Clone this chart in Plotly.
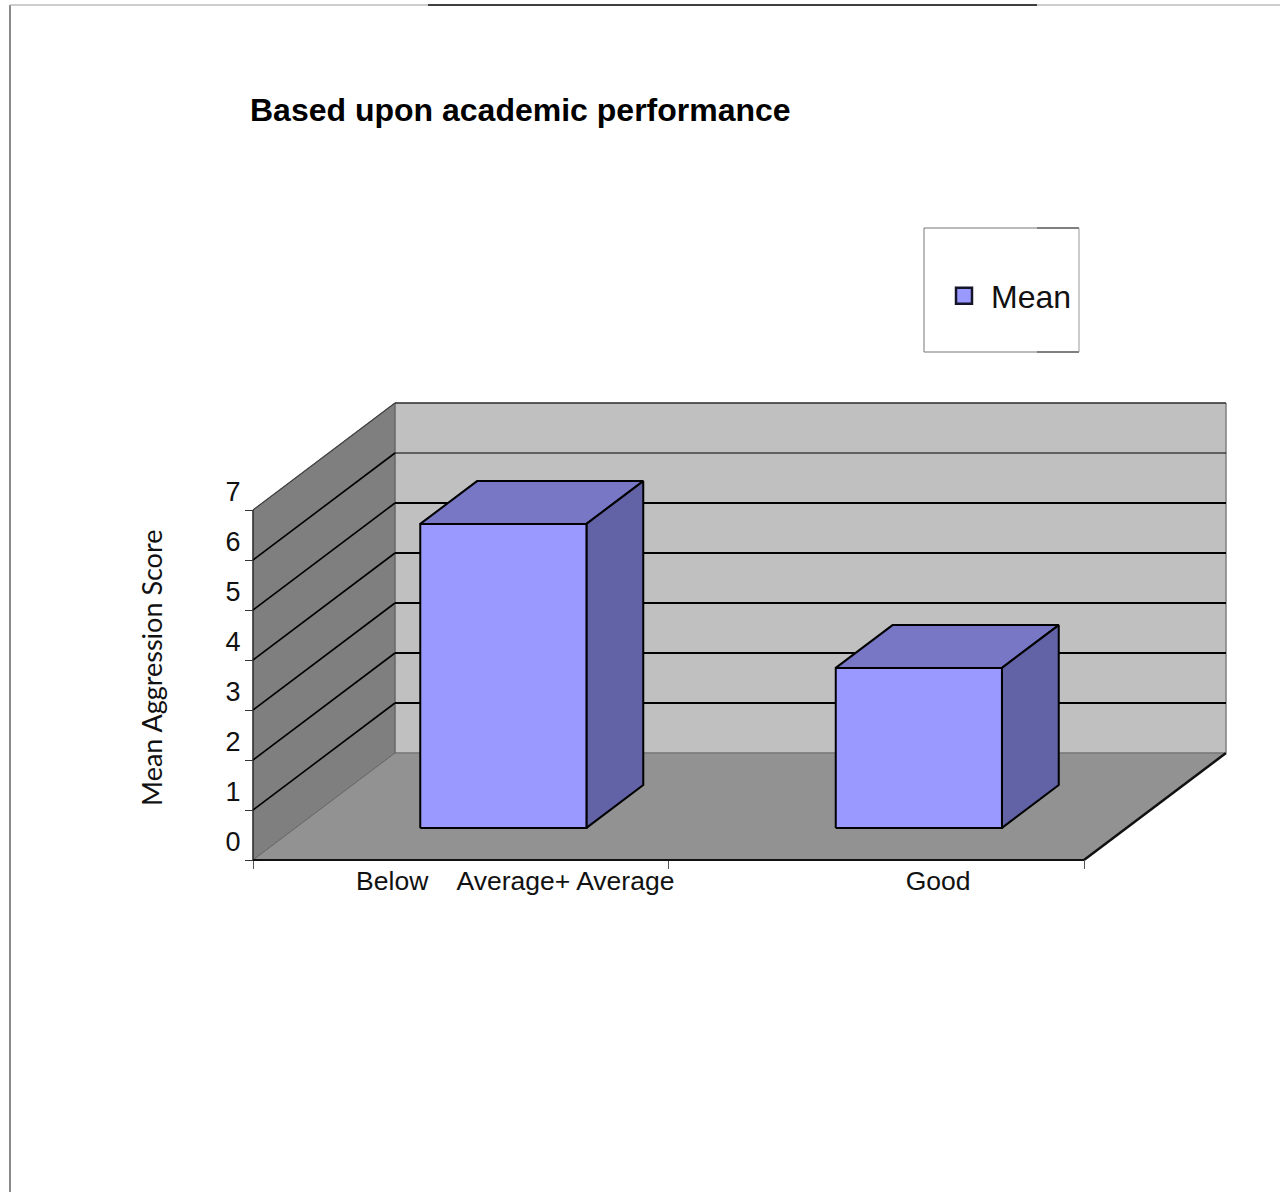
import plotly.graph_objects as go

# ---- data ----
series_name = "Mean"
axis_title = "Mean Aggression Score"
bar_centers = [0.5, 1.5]
bar_values = [6.08, 3.2]
tick_values = [0, 1, 2, 3, 4, 5, 6, 7]
cat_label_pos = [0.335, 0.752, 1.649]
cat_labels = ["Below", "Average+ Average", "Good"]
cat_edges = [0, 1, 2]

# ---- oblique projection used for the fake 3-D look ----
W, H = 1280, 1192
X0, X1, Y0, Y1 = 253, 1226, 860, 403
UNIT_X, UNIT_Y = 415.5, 50
DX, DY = 142 / UNIT_X, 107 / UNIT_Y
XMAX, YMAX = 2, 7
BAR_W = 0.4
D_FRONT, D_BACK = 0.3, 0.7
PAD = 10  # spare pixels round the plot so edge strokes are not clipped


def project(pts):
    xs = [u + d * DX for u, v, d in pts]
    ys = [v + d * DY for u, v, d in pts]
    return xs, ys


fig = go.Figure()


def poly(pts, fill, line="#000000", width=2):
    xs, ys = project(pts + pts[:1])
    fig.add_trace(go.Scatter(
        x=xs, y=ys, mode="lines", fill="toself", fillcolor=fill,
        line=dict(color=line, width=width), hoverinfo="skip",
        showlegend=False, cliponaxis=False))


def seg(a, b, color="#000000", width=2):
    xs, ys = project([a, b])
    fig.add_trace(go.Scatter(
        x=xs, y=ys, mode="lines", line=dict(color=color, width=width),
        hoverinfo="skip", showlegend=False, cliponaxis=False))


# walls and floor
poly([(0, 0, 1), (XMAX, 0, 1), (XMAX, YMAX, 1), (0, YMAX, 1)], "#c0c0c0", "#808080", 1)
poly([(0, 0, 0), (0, 0, 1), (0, YMAX, 1), (0, YMAX, 0)], "#7f7f7f", "#5a5a5a", 1)
poly([(0, 0, 0), (XMAX, 0, 0), (XMAX, 0, 1), (0, 0, 1)], "#929292", "#6a6a6a", 1)
seg((XMAX, 0, 0), (XMAX, 0, 1), "#111111", 2.5)
seg((XMAX, YMAX, 1), (XMAX, 0, 1), "#808080", 1)

# gridlines
for v in tick_values[1:]:
    w = 1.2 if v >= 6 else 2
    seg((0, v, 1), (XMAX, v, 1), "#000000", w)
    if v < 7:
        seg((0, v, 0), (0, v, 1), "#000000", 1.6)
seg((0, 7, 0), (0, 7, 1), "#444444", 1.2)

# axis lines
seg((0, 0, 0), (0, 7, 0), "#222222", 1.2)
seg((0, 0, 0), (XMAX, 0, 0), "#111111", 2)

# bars
for c, v in zip(bar_centers, bar_values):
    l, r = c - BAR_W / 2, c + BAR_W / 2
    poly([(l, v, D_FRONT), (r, v, D_FRONT), (r, v, D_BACK), (l, v, D_BACK)], "#7777c6")
    poly([(r, 0, D_FRONT), (r, v, D_FRONT), (r, v, D_BACK), (r, 0, D_BACK)], "#6262a6")
    poly([(l, 0, D_FRONT), (r, 0, D_FRONT), (r, v, D_FRONT), (l, v, D_FRONT)], "#9999ff")

# legend entry
fig.add_trace(go.Scatter(
    x=[None], y=[None], mode="markers", showlegend=True, name=series_name,
    marker=dict(symbol="square", size=16, color="#9999ff",
                line=dict(color="#15152a", width=2.5))))


def px(x):
    return x / W


def py(y):
    return 1 - y / H


def rule(x0, y0, x1, y1, color, width):
    return dict(type="line", xref="paper", yref="paper", layer="above",
                x0=px(x0), y0=py(y0), x1=px(x1), y1=py(y1),
                line=dict(color=color, width=width))


shapes = [
    rule(10, 5, 10, 1192, "#8a8a8a", 2),
    rule(10, 5, 428, 5, "#bdbdbd", 1.5),
    rule(428, 5, 1037, 5, "#000000", 1.5),
    rule(1037, 5, 1280, 5, "#bdbdbd", 1.5),
    rule(924, 228, 1037, 228, "#777777", 1),
    rule(1037, 228, 1079, 228, "#000000", 1),
    rule(924, 352, 1037, 352, "#777777", 1),
    rule(1037, 352, 1079, 352, "#000000", 1),
    rule(924, 228, 924, 352, "#777777", 1),
    rule(1079, 228, 1079, 352, "#999999", 1),
]

fig.update_layout(
    width=W, height=H, autosize=False,
    margin=dict(l=0, r=0, t=0, b=0, autoexpand=False),
    paper_bgcolor="#ffffff", plot_bgcolor="rgba(0,0,0,0)",
    font=dict(family="Liberation Sans, Arial, sans-serif", color="#111111"),
    title=dict(text="<b>Based upon academic performance</b>",
               xref="paper", yref="paper", x=px(250), xanchor="left",
               y=py(110), yanchor="middle",
               font=dict(size=32, color="#000000")),
    legend=dict(x=px(937), y=py(296), xanchor="left", yanchor="middle",
                bgcolor="rgba(0,0,0,0)", borderwidth=0, itemwidth=44,
                font=dict(size=32, color="#111111")),
    shapes=shapes,
    annotations=[dict(text=axis_title, xref="paper", yref="paper",
                      x=px(151), y=py(668), xanchor="center", yanchor="middle",
                      textangle=-90, showarrow=False,
                      font=dict(family="Lato, sans-serif", size=27, color="#111111"))],
    xaxis=dict(domain=[px(X0 - PAD), px(X1 + PAD)],
               range=[-PAD / UNIT_X, XMAX + DX + PAD / UNIT_X],
               anchor="free", position=py(Y0),
               showgrid=False, zeroline=False, showline=False,
               tickmode="array", tickvals=cat_label_pos, ticktext=cat_labels,
               ticks="", ticklabelstandoff=2,
               tickfont=dict(size=26.5, color="#111111"),
               minor=dict(tickmode="array", tickvals=cat_edges, ticks="outside",
                          ticklen=8, tickcolor="#555555", tickwidth=1)),
    yaxis=dict(domain=[py(Y0 + PAD), py(Y1 - PAD)],
               range=[-PAD / UNIT_Y, YMAX + DY + PAD / UNIT_Y],
               anchor="free", position=px(X0),
               showgrid=False, zeroline=False, showline=False,
               tickmode="array", tickvals=tick_values,
               ticks="outside", ticklen=8, tickcolor="#333333", tickwidth=1,
               ticklabelshift=-18, ticklabelstandoff=-1,
               tickfont=dict(size=27, color="#111111")),
)

fig.write_html("out.html", config={"displayModeBar": False},
               post_script="document.body.style.margin='0';")
